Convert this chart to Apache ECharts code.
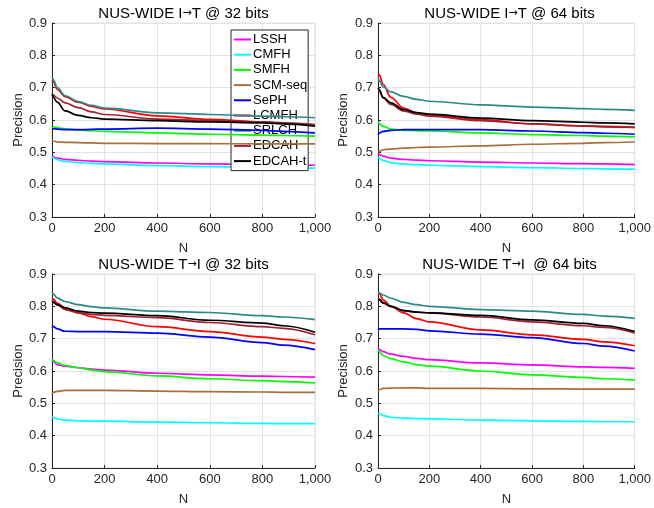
<!DOCTYPE html>
<html>
<head>
<meta charset="utf-8">
<script src="https://cdn.jsdelivr.net/npm/echarts@6.0.0/dist/echarts.min.js"></script>
<style>
  html, body { margin: 0; padding: 0; background: #fff; }
  #main { width: 654px; height: 508px; }
</style>
</head>
<body>
<div id="main"></div>
<script>
// sample positions along N (shared by all four panels)
var N = [1, 5, 20, 50, 100, 150, 200, 400, 600, 800, 880, 1000];

var methods = ["LSSH", "CMFH", "SMFH", "SCM-seq", "SePH", "LCMFH", "SRLCH", "EDCAH", "EDCAH-t"];
var colors = ["#ff00ff", "#00ffff", "#00ff00", "#a8703c", "#0000ff", "#ff0000", "#2a8a8a", "#a3202e", "#000000"];
var titles = ["NUS-WIDE I{a|\u2192}T @ 32 bits", "NUS-WIDE I{a|\u2192}T @ 64 bits",
              "NUS-WIDE T{a|\u2192}I @ 32 bits", "NUS-WIDE T{a|\u2192}I  @ 64 bits"];
var xTicks = [0, 200, 400, 600, 800, 1000];
var yTicks = [0.3, 0.4, 0.5, 0.6, 0.7, 0.8, 0.9];

// NUS-WIDE I->T @ 32 bits
var it32_LSSH   = [0.488, 0.486, 0.482, 0.478, 0.475, 0.473, 0.471, 0.467, 0.464, 0.462, 0.461, 0.460];
var it32_CMFH   = [0.486, 0.483, 0.477, 0.472, 0.468, 0.466, 0.464, 0.459, 0.456, 0.453, 0.452, 0.451];
var it32_SMFH   = [0.574, 0.578, 0.576, 0.573, 0.569, 0.567, 0.565, 0.560, 0.556, 0.553, 0.552, 0.550];
var it32_SCM    = [0.537, 0.535, 0.532, 0.531, 0.530, 0.529, 0.528, 0.527, 0.527, 0.526, 0.526, 0.526];
var it32_SePH   = [0.570, 0.573, 0.572, 0.570, 0.570, 0.571, 0.572, 0.575, 0.572, 0.568, 0.565, 0.560];
var it32_LCMFH  = [0.722, 0.718, 0.695, 0.672, 0.655, 0.642, 0.634, 0.613, 0.602, 0.594, 0.590, 0.585];
var it32_SRLCH  = [0.730, 0.725, 0.700, 0.675, 0.657, 0.645, 0.637, 0.622, 0.617, 0.612, 0.610, 0.607];
var it32_EDCAH  = [0.680, 0.677, 0.668, 0.653, 0.638, 0.625, 0.617, 0.603, 0.598, 0.594, 0.591, 0.586];
var it32_EDCAHt = [0.680, 0.670, 0.655, 0.628, 0.614, 0.607, 0.603, 0.598, 0.594, 0.591, 0.588, 0.581];

// NUS-WIDE I->T @ 64 bits
var it64_LSSH   = [0.495, 0.493, 0.488, 0.482, 0.478, 0.476, 0.474, 0.470, 0.467, 0.465, 0.464, 0.462];
var it64_CMFH   = [0.485, 0.482, 0.475, 0.468, 0.464, 0.462, 0.460, 0.456, 0.453, 0.450, 0.449, 0.448];
var it64_SMFH   = [0.595, 0.588, 0.580, 0.572, 0.568, 0.567, 0.566, 0.560, 0.555, 0.552, 0.550, 0.548];
var it64_SCM    = [0.500, 0.503, 0.508, 0.510, 0.513, 0.515, 0.516, 0.520, 0.525, 0.528, 0.530, 0.532];
var it64_SePH   = [0.555, 0.560, 0.565, 0.568, 0.570, 0.570, 0.570, 0.570, 0.566, 0.561, 0.559, 0.556];
var it64_LCMFH  = [0.735, 0.740, 0.710, 0.670, 0.637, 0.622, 0.615, 0.601, 0.588, 0.581, 0.579, 0.577];
var it64_SRLCH  = [0.730, 0.722, 0.702, 0.687, 0.673, 0.664, 0.658, 0.647, 0.640, 0.635, 0.633, 0.630];
var it64_EDCAH  = [0.695, 0.690, 0.668, 0.648, 0.628, 0.618, 0.612, 0.598, 0.588, 0.582, 0.580, 0.577];
var it64_EDCAHt = [0.700, 0.693, 0.670, 0.653, 0.632, 0.623, 0.618, 0.606, 0.598, 0.593, 0.591, 0.588];

// NUS-WIDE T->I @ 32 bits
var ti32_LSSH   = [0.632, 0.630, 0.620, 0.615, 0.610, 0.606, 0.603, 0.593, 0.588, 0.584, 0.583, 0.581];
var ti32_CMFH   = [0.458, 0.456, 0.452, 0.448, 0.446, 0.445, 0.445, 0.442, 0.440, 0.438, 0.437, 0.437];
var ti32_SMFH   = [0.637, 0.633, 0.625, 0.617, 0.610, 0.603, 0.598, 0.585, 0.576, 0.570, 0.567, 0.563];
var ti32_SCM    = [0.532, 0.534, 0.537, 0.540, 0.540, 0.540, 0.540, 0.538, 0.536, 0.535, 0.534, 0.534];
var ti32_SePH   = [0.733, 0.738, 0.730, 0.723, 0.722, 0.722, 0.722, 0.717, 0.705, 0.688, 0.680, 0.666];
var ti32_LCMFH  = [0.825, 0.822, 0.810, 0.795, 0.780, 0.768, 0.760, 0.737, 0.722, 0.705, 0.698, 0.685];
var ti32_SRLCH  = [0.843, 0.838, 0.826, 0.815, 0.805, 0.799, 0.795, 0.785, 0.781, 0.771, 0.767, 0.759];
var ti32_EDCAH  = [0.820, 0.815, 0.805, 0.790, 0.780, 0.775, 0.772, 0.765, 0.750, 0.737, 0.732, 0.712];
var ti32_EDCAHt = [0.815, 0.812, 0.805, 0.795, 0.785, 0.781, 0.779, 0.771, 0.757, 0.748, 0.740, 0.720];

// NUS-WIDE T->I @ 64 bits
var ti64_LSSH   = [0.668, 0.666, 0.660, 0.652, 0.645, 0.639, 0.635, 0.625, 0.619, 0.613, 0.611, 0.608];
var ti64_CMFH   = [0.470, 0.468, 0.462, 0.457, 0.454, 0.453, 0.452, 0.448, 0.446, 0.444, 0.443, 0.443];
var ti64_SMFH   = [0.665, 0.660, 0.648, 0.638, 0.628, 0.620, 0.615, 0.600, 0.588, 0.580, 0.576, 0.572];
var ti64_SCM    = [0.538, 0.542, 0.546, 0.547, 0.548, 0.548, 0.546, 0.546, 0.545, 0.544, 0.544, 0.544];
var ti64_SePH   = [0.727, 0.730, 0.730, 0.730, 0.730, 0.729, 0.724, 0.714, 0.703, 0.685, 0.677, 0.662];
var ti64_LCMFH  = [0.835, 0.840, 0.820, 0.800, 0.780, 0.762, 0.752, 0.727, 0.712, 0.698, 0.690, 0.678];
var ti64_SRLCH  = [0.843, 0.841, 0.835, 0.825, 0.812, 0.805, 0.800, 0.790, 0.785, 0.775, 0.770, 0.763];
var ti64_EDCAH  = [0.825, 0.822, 0.812, 0.800, 0.787, 0.782, 0.780, 0.767, 0.752, 0.740, 0.735, 0.718];
var ti64_EDCAHt = [0.822, 0.820, 0.810, 0.800, 0.787, 0.782, 0.780, 0.772, 0.758, 0.747, 0.740, 0.722];

var panels = [
    [it32_LSSH, it32_CMFH, it32_SMFH, it32_SCM, it32_SePH, it32_LCMFH, it32_SRLCH, it32_EDCAH, it32_EDCAHt],
    [it64_LSSH, it64_CMFH, it64_SMFH, it64_SCM, it64_SePH, it64_LCMFH, it64_SRLCH, it64_EDCAH, it64_EDCAHt],
    [ti32_LSSH, ti32_CMFH, ti32_SMFH, ti32_SCM, ti32_SePH, ti32_LCMFH, ti32_SRLCH, ti32_EDCAH, ti32_EDCAHt],
    [ti64_LSSH, ti64_CMFH, ti64_SMFH, ti64_SCM, ti64_SePH, ti64_LCMFH, ti64_SRLCH, ti64_EDCAH, ti64_EDCAHt]
];

var FONT = "'Liberation Sans', Arial, Helvetica, sans-serif";
var boxes = [
    { left: 52, top: 23 },
    { left: 378, top: 23 },
    { left: 52, top: 274 },
    { left: 378, top: 274 }
];
var W = 263, H = 194;

var grid = [], xAxis = [], yAxis = [], title = [], series = [];
for (var p = 0; p < 4; ++p) {
    grid.push({
        left: boxes[p].left, top: boxes[p].top, width: W, height: H,
        show: true, borderColor: '#e3e3e3', borderWidth: 1, backgroundColor: '#fff'
    });
    title.push({
        text: titles[p],
        left: boxes[p].left + W / 2,
        top: boxes[p].top - 17,
        textAlign: 'center',
        padding: 0,
        textStyle: {
            fontFamily: FONT, fontSize: 15, fontWeight: 'normal', color: '#000',
            rich: {
                a: { fontFamily: "'DejaVu Sans'", fontSize: 11, color: '#000', padding: [0, 0, 1, 0] }
            }
        }
    });
    xAxis.push({
        type: 'value', gridIndex: p,
        min: xTicks[0], max: xTicks[xTicks.length - 1], interval: 200,
        name: 'N', nameLocation: 'middle', nameGap: 25,
        nameTextStyle: { fontFamily: FONT, fontSize: 13, color: '#262626' },
        axisLine: { lineStyle: { color: '#262626', width: 1 } },
        axisTick: { inside: true, length: 3, lineStyle: { color: '#262626' } },
        axisLabel: { fontFamily: FONT, fontSize: 13, color: '#262626', margin: 5 },
        splitLine: { lineStyle: { color: '#e3e3e3', width: 1 } }
    });
    yAxis.push({
        type: 'value', gridIndex: p,
        min: yTicks[0], max: yTicks[yTicks.length - 1], interval: 0.1,
        name: 'Precision', nameLocation: 'middle', nameGap: p % 2 === 0 ? 26 : 28,
        nameTextStyle: { fontFamily: FONT, fontSize: 13, color: '#262626' },
        axisLine: { show: true, lineStyle: { color: '#262626', width: 1 } },
        axisTick: { show: true, inside: true, length: 3, lineStyle: { color: '#262626' } },
        axisLabel: {
            fontFamily: FONT, fontSize: 13, color: '#262626', margin: 5,
            formatter: function (v) { return v.toFixed(1); }
        },
        splitLine: { lineStyle: { color: '#e3e3e3', width: 1 } }
    });
    for (var m = 0; m < methods.length; ++m) {
        var pts = [];
        for (var k = 0; k < N.length; ++k) {
            pts.push([N[k], panels[p][m][k]]);
        }
        series.push({
            name: methods[m],
            type: 'line',
            xAxisIndex: p, yAxisIndex: p,
            symbol: 'none',
            smooth: 0.35,
            smoothMonotone: 'x',
            silent: true,
            lineStyle: { color: colors[m], width: 1.7 },
            itemStyle: { color: colors[m] },
            z: 2 + m,
            data: pts
        });
    }
}

var chart = echarts.init(document.getElementById('main'), null, { renderer: 'canvas' });
chart.setOption({
    animation: false,
    backgroundColor: '#fff',
    title: title,
    grid: grid,
    xAxis: xAxis,
    yAxis: yAxis,
    legend: {
        data: methods,
        orient: 'vertical',
        left: 231, top: 30,
        icon: 'rect',
        itemWidth: 17, itemHeight: 2, itemGap: 2.2,
        padding: [3, 1, 3, 3],
        backgroundColor: '#fff',
        borderColor: '#262626', borderWidth: 1,
        textStyle: { fontFamily: FONT, fontSize: 13, lineHeight: 13, color: '#000', padding: [0, 0, 0, -3] },
        selectedMode: false
    },
    series: series
});
</script>
</body>
</html>
